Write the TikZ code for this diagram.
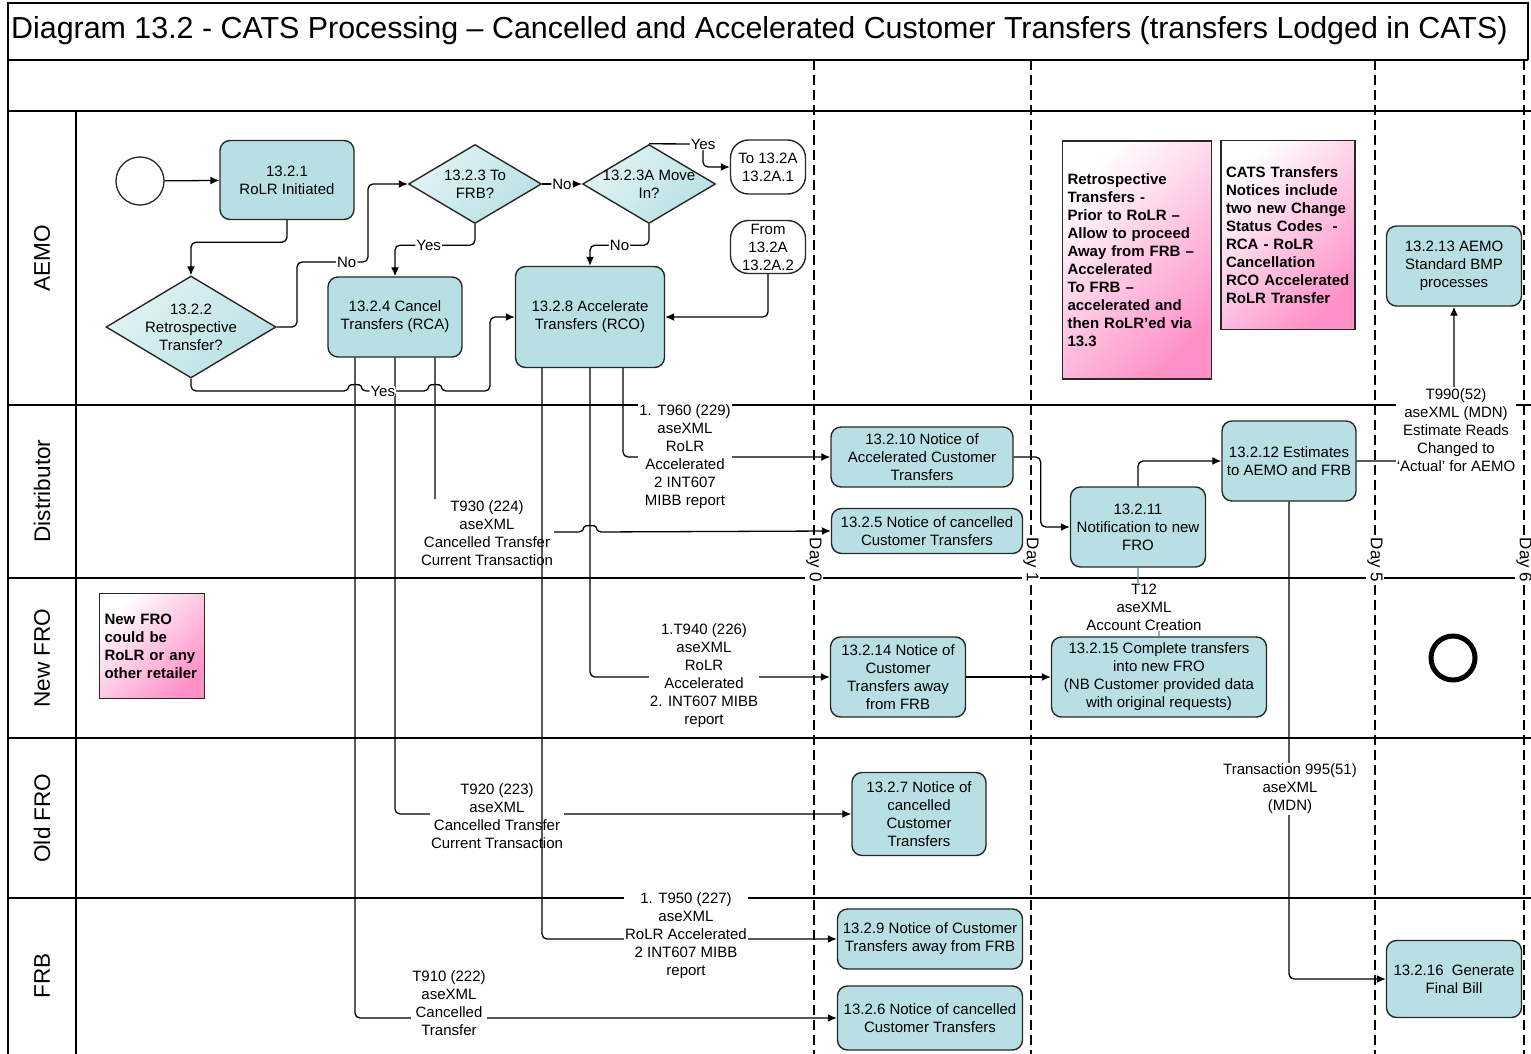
\documentclass[tikz,border=0pt]{standalone}
\usepackage{fontspec}
\setmainfont{Liberation Sans}
\usetikzlibrary{calc}
\usetikzlibrary{arrows.meta}
\usetikzlibrary{shapes.geometric}
\definecolor{procfill}{RGB}{184,224,228}
\definecolor{proclite}{RGB}{226,243,245}
\definecolor{notepink}{RGB}{255,145,200}
\definecolor{edgegray}{RGB}{40,40,40}
\definecolor{linkblue}{RGB}{79,129,189}
\newcommand{\bodyfont}{\fontsize{15}{18}\selectfont}

\begin{document}
\begin{tikzpicture}[x=1pt, y=-1pt, >={Latex[length=9pt,width=8pt]},
    lane/.style={line width=1.6pt},
    dayline/.style={line width=1.2pt, dash pattern=on 10pt off 5pt},
    daylbl/.style={fill=white, rotate=-90, inner sep=1pt, font=\fontsize{17}{20}\selectfont},
    lanelbl/.style={rotate=90, font=\fontsize{22.6}{27}\selectfont},
    proc/.style={draw=edgegray, line width=1.4pt, fill=procfill, rounded corners=10pt, align=center, inner sep=1pt, font=\bodyfont},
    dec/.style={draw=edgegray, line width=1.4pt, diamond, top color=proclite, bottom color=procfill, shading angle=45, inner sep=0pt},
    dtxt/.style={align=center, font=\bodyfont, inner sep=0pt},
    offpage/.style={draw=edgegray, line width=1.4pt, fill=white, rounded corners=18pt, align=center, inner sep=0pt, font=\bodyfont},
    note/.style={draw=edgegray, line width=1.4pt, top color=white, bottom color=notepink, shading angle=45, align=left, inner sep=5pt, font=\bodyfont\bfseries},
    conn/.style={line width=1.3pt, rounded corners=5pt},
    msg/.style={fill=white, align=center, inner sep=1pt, font=\bodyfont},
    yn/.style={fill=white, inner sep=1pt, font=\bodyfont}]

  \useasboundingbox (0,0) rectangle (1531,1054);
  \fill [white] (0,0) rectangle (1531,1054);
  \clip (0,0) rectangle (1531,1054);

  % pool and lanes
  \draw [lane] (1528,60) -- (1528,3) -- (8,3) -- (8,1054);
  \draw [lane] (8,60) -- (1528,60);
  \foreach \y in {111,405,578,738,898}
    \draw [lane] (8,\y) -- (1531,\y);
  \draw [lane] (76,111) -- (76,1054);

  \node [anchor=west, inner sep=0pt, font=\fontsize{30.4}{36}\selectfont] (title) at (11,31)
    {Diagram 13.2 - CATS Processing – Cancelled and Accelerated Customer Transfers (transfers Lodged in CATS)};

  \foreach \x/\d in {814/0, 1031/1, 1375/5, 1524/6} {
    \draw [dayline] (\x,60) -- (\x,1054);
    \node [daylbl] (day\d) at (\x,560) {Day \d};
  }

  \foreach \y/\name/\txt in {258/aemo/AEMO, 491/dist/Distributor, 658/newfro/New FRO, 818/oldfro/Old FRO, 976/frb/FRB}
    \node [lanelbl] (\name) at (42,\y) {\txt};

  % AEMO
  \node [draw=edgegray, line width=1.3pt, circle, minimum size=48pt] (start) at (140,181) {};
  \node [proc, minimum width=134pt, minimum height=79pt] (s1) at (287,180) {13.2.1\\RoLR Initiated};
  \node [dec, minimum width=170pt, minimum height=102pt] (s2) at (191,327) {};
  \node [dtxt] (s2t) at (s2) {13.2.2\\Retrospective\\Transfer?};
  \node [dec, minimum width=133pt, minimum height=79pt] (s3) at (475,184) {};
  \node [dtxt] (s3t) at (s3) {13.2.3 To\\FRB?};
  \node [dec, minimum width=133pt, minimum height=79pt] (s3a) at (649,184) {};
  \node [dtxt] (s3at) at (s3a) {13.2.3A Move\\In?};
  \node [offpage, minimum width=75pt, minimum height=54pt] (toA) at (768,167) {To 13.2A\\13.2A.1};
  \node [offpage, minimum width=75pt, minimum height=53pt] (fromA) at (768,247) {From\\13.2A\\13.2A.2};
  \node [proc, minimum width=134pt, minimum height=80pt] (s4) at (395,317) {13.2.4 Cancel\\Transfers (RCA)};
  \node [proc, minimum width=149pt, minimum height=101pt] (s8) at (590,317) {13.2.8 Accelerate\\Transfers (RCO)};
  \node [note, text width=139pt, minimum height=238pt] (note1) at (1137,260)
    {Retrospective\\Transfers -\\Prior to RoLR –\\Allow to proceed\\Away from FRB –\\Accelerated\\To FRB –\\accelerated and\\then RoLR’ed via\\13.3};
  \node [note, text width=124pt, minimum height=189pt] (note2) at (1288,235)
    {CATS Transfers\\Notices include\\two new Change\\Status Codes~~-\\RCA - RoLR\\Cancellation\\RCO Accelerated\\RoLR Transfer};
  \node [proc, minimum width=135pt, minimum height=80pt] (s13) at (1454,266) {13.2.13 AEMO\\Standard BMP\\processes};

  % Distributor
  \node [proc, minimum width=182pt, minimum height=60pt] (s10) at (922,457) {13.2.10 Notice of\\Accelerated Customer\\Transfers};
  \node [proc, minimum width=191pt, minimum height=45pt] (s5) at (927,531) {13.2.5 Notice of cancelled\\Customer Transfers};
  \node [proc, minimum width=135pt, minimum height=80pt] (s11) at (1138,527) {13.2.11\\Notification to new\\FRO};
  \node [proc, minimum width=134pt, minimum height=80pt] (s12) at (1289,461) {13.2.12 Estimates\\to AEMO and FRB};

  % New FRO
  \node [note, text width=95pt, minimum height=105pt] (note3) at (152,646) {New FRO\\could be\\RoLR or any\\other retailer};
  \node [proc, minimum width=135pt, minimum height=80pt] (s14) at (898,677) {13.2.14 Notice of\\Customer\\Transfers away\\from FRB};
  \node [proc, minimum width=215pt, minimum height=80pt] (s15) at (1159,677) {13.2.15 Complete transfers\\into new FRO\\(NB Customer provided data\\with original requests)};
  \node [draw, line width=5pt, circle, minimum size=44pt] (stop) at (1453,658) {};

  % Old FRO
  \node [proc, minimum width=134pt, minimum height=83pt] (s7) at (919,814) {13.2.7 Notice of\\cancelled\\Customer\\Transfers};

  % FRB
  \node [proc, minimum width=185pt, minimum height=60pt] (s9) at (930,939) {13.2.9 Notice of Customer\\Transfers away from FRB};
  \node [proc, minimum width=185pt, minimum height=64pt] (s6) at (930,1018) {13.2.6 Notice of cancelled\\Customer Transfers};
  \node [proc, minimum width=135pt, minimum height=77pt] (s16) at (1454,979) {13.2.16~~Generate\\Final Bill};

  % decisions
  \draw [conn, ->] (start) -- (s1);
  \draw [conn, ->] (s1.south) -- ++(0,22) -| (s2.north);
  \draw [conn, ->] (s2.east) -- (297,327) -- (297,262) -- node [yn, pos=0.7] {No} (368,262) -- (368,184) -- (s3.west);
  \draw [conn, ->] (s3.south) -- ++(0,21) -| node [yn, pos=0.29] {Yes} (s4.north);
  \draw [conn, ->] (s3.east) -- node [yn] {No} (s3a.west);
  \draw [conn, ->] (s3a.north) -- node [yn, pos=1] {Yes} (703,144) -- (703,167) -- (toA.west);
  \draw [conn, ->] (s3a.south) -- ++(0,21) -| node [yn, pos=0.25] {No} (s8.north);
  \draw [conn, ->] (fromA.south) |- (s8.east);

  % cancellations
  \draw [conn, ->] ($(s4.south)+(-40,0)$) |- (s6.west);
  \node [msg] (t910) at (449,1003) {T910 (222)\\aseXML\\Cancelled\\Transfer};
  \draw [conn, ->] (s4.south) |- (s7.west);
  \node [msg] (t920) at (497,816) {T920 (223)\\aseXML\\Cancelled Transfer\\Current Transaction};
  \draw [conn, ->] ($(s4.south)+(40,0)$) -- (435,532) -- (584,532) .. controls (584,525) and (596,525) .. (596,532) -- (s5.west);
  \node [msg] (t930) at (487,533) {T930 (224)\\aseXML\\Cancelled Transfer\\Current Transaction};

  \draw [conn, ->] (s2.south) -- (191,391) -- (349,391) .. controls (349,384) and (361,384) .. (361,391)
    -- node [yn, pos=0.32] {Yes} (429,391) .. controls (429,384) and (441,384) .. (441,391) -- (490,391) -- (490,317) -- (s8.west);

  % accelerations
  \draw [conn, ->] ($(s8.south)+(-48,0)$) |- (s9.west);
  \node [msg] (t950) at (686,936) {1. T950 (227)\\aseXML\\RoLR Accelerated\\2 INT607 MIBB\\report};
  \draw [conn, ->] (s8.south) |- (s14.west);
  \node [msg] (t940) at (704,676) {1.T940 (226)\\aseXML\\RoLR\\Accelerated\\2. INT607 MIBB\\report};
  \draw [conn, ->] ($(s8.south)+(33,0)$) |- (s10.west);
  \node [msg] (t960) at (685,457) {1. T960 (229)\\aseXML\\RoLR\\Accelerated\\2 INT607\\MIBB report};

  % later days
  \draw [conn, ->] (s10.east) -- ++(27,0) |- (s11.west);
  \draw [conn, ->] (s11.north) |- (s12.west);
  \draw [conn, linkblue] (s11.south) -- ++(0,40) -| (s15.north);
  \node [msg] (t12) at (1144,607) {T12\\aseXML\\Account Creation};
  \draw [conn, ->] (s14) -- (s15);
  \draw [conn, ->] (s12.east) -| (s13.south);
  \node [msg] (t990) at (1456,430) {T990(52)\\aseXML (MDN)\\Estimate Reads\\Changed to\\‘Actual’ for AEMO};
  \draw [conn, ->] (s12.south) |- (s16.west);
  \node [msg] (t995) at (1290,789) {Transaction 995(51)\\aseXML\\(MDN)};
\end{tikzpicture}
\end{document}
